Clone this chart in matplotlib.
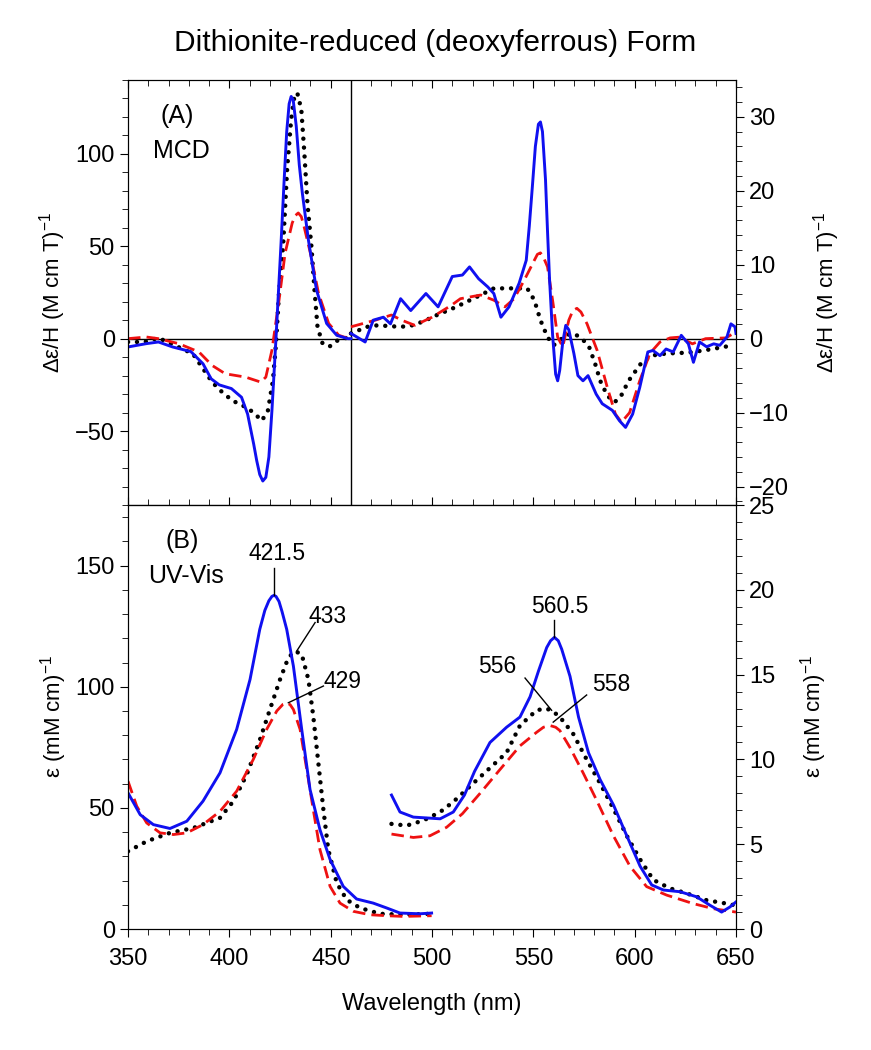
import numpy as np
import matplotlib
matplotlib.use('Agg')
import matplotlib.pyplot as plt
from matplotlib.ticker import MultipleLocator

plt.rcParams['font.family'] = ['Liberation Sans', 'DejaVu Sans']
plt.rcParams['mathtext.fontset'] = 'custom'
plt.rcParams['mathtext.rm'] = 'Liberation Sans'
plt.rcParams['mathtext.it'] = 'Liberation Sans:italic'

# ---- (A) MCD, Soret region (left axis) ----
mcd_blue_l_x = [350, 359, 365, 372, 381, 387, 391, 395, 401, 406, 409, 412, 413.5, 415, 416.5, 418,
                419.5, 421, 423, 425.5, 427, 428.3, 429.5, 430.5, 431.5, 433, 434.5, 436, 439, 443,
                448, 453, 458.5, 460]
mcd_blue_l_y = [-4.5, -2.7, -1.8, -4.5, -7, -13.6, -21.7, -25, -27, -31.7, -40.8, -57, -66, -73.5,
                -77, -75, -64, -39, 0, 51.6, 85, 112, 127, 131, 129, 115, 94, 78.8, 53.4, 26.3,
                8.2, 1.8, 0, 0]
mcd_red_l_x = [350, 359, 365, 375, 385, 391.5, 398, 408, 415.5, 418, 421, 424.5, 427.5, 431, 432.5,
               434, 435.5, 437, 440, 444, 449, 454, 459, 460]
mcd_red_l_y = [0, 0.9, 0, -2.7, -7.2, -14.5, -19, -20.8, -23.5, -20.8, -6.3, 20.8, 46.2, 62.5, 66.5,
               68, 66, 60, 46.2, 24.5, 8.2, 1.8, 0, 0]
mcd_blk_l_x = [350, 358, 365, 373, 382, 386.5, 391.5, 396.5, 401.5, 408, 412, 416, 419, 421.5, 423,
               424.5, 426.5, 428.5, 430.5, 432, 433.5, 435.5, 437, 438.5, 440.5, 442, 443.5, 446,
               449.5, 453.5, 458]
mcd_blk_l_y = [-1.8, -1.8, 0.4, -3.6, -8.2, -15.4, -23.5, -29, -33.5, -37, -40, -44.4, -39, -22.6,
               -2.7, 24.5, 49.8, 91.5, 118.7, 130.4, 133, 124, 100.5, 73.4, 49.8, 26.3, 6.3, -2.7,
               -4.2, -0.9, 0.5]

# ---- (A) MCD, visible region (right axis) ----
mcd_blue_r_x = [460, 467, 471, 476, 479.5, 484.5, 489.5, 497, 503, 510, 515, 518.5, 523, 527.5, 530.5,
                534, 538, 543, 546.5, 548, 549.5, 551, 552.5, 553.5, 554.5, 556, 557, 558, 559.5,
                561, 562, 563, 564.5, 566, 567.5, 570, 572, 574.5, 577, 581, 584, 589, 592.5, 595.5,
                599, 602.5, 606.5, 609, 612.5, 615.5, 619, 623, 626.5, 629, 632, 635.5, 639, 642,
                645.5, 647.5, 649.5, 650]
mcd_blue_r_y = [0.7, -0.45, 2.5, 2.9, 2.0, 5.4, 3.8, 6.1, 4.3, 8.4, 8.6, 9.7, 8.1, 7.0, 6.1, 2.9, 4.3,
                7.5, 10.6, 15.2, 20.5, 26, 29, 29.3, 28, 21.5, 14.5, 8, 0.5, -4.8, -5.7, -4.3, -0.5,
                1.8, 1.2, -2.0, -5, -5.7, -5, -7.5, -8.8, -9.7, -11.1, -12, -10.2, -6.6, -1.8, -1.6,
                -2.3, -1.4, -1.8, 0.45, -0.7, -3.2, -0.45, -1.1, -0.7, -0.9, 0.2, 2.0, 1.6, 0.7]
mcd_red_r_x = [460, 472, 480, 485, 491.5, 500, 509.5, 514, 524, 530.5, 536, 540.5, 545.5, 550.5, 552,
               553.5, 555, 557, 559.5, 562, 564.5, 567.5, 569.5, 571.5, 573.5, 576.5, 581.5, 586.5,
               590.5, 593.5, 597.5, 602.5, 607.5, 612.5, 617.5, 622, 628.5, 635, 645, 650]
mcd_red_r_y = [1.6, 2.5, 3.2, 2.5, 1.8, 2.9, 4.5, 5.4, 5.9, 5.2, 4.3, 5.4, 7.9, 10.6, 11.4, 11.6, 11.0,
               9.7, 5.2, 0.2, -1.1, 2.5, 3.8, 4.1, 3.6, 2.0, -1.6, -6.6, -10.2, -11.3, -10, -5.7,
               -2.0, -0.45, 0.1, 0.2, -0.7, 0, 0.1, 0.9]
mcd_blk_r_x = [460, 468, 473, 479, 484, 489, 495.5, 502.5, 512, 524, 530.5, 537, 547, 550.5, 553.5,
               557, 560, 566, 570, 574, 577.5, 580.5, 583, 586.5, 590, 593, 597, 603, 608, 616,
               626, 634, 642.5, 646.5]
mcd_blk_r_y = [0.7, 1.6, 1.8, 1.7, 1.6, 1.7, 2.3, 3.2, 4.3, 5.9, 6.8, 6.8, 6.8, 5.2, 2.5, 0.2, -0.9,
               0.45, 0.7, 0, -1.1, -3.4, -5.7, -7.7, -8.6, -7.9, -5.7, -3.4, -2.3, -2.0, -1.9, -1.6,
               -1.2, -1.0]

# ---- (B) UV-Vis, Soret region (left axis) ----
uv_blue_l_x = [350, 356, 362.5, 370.7, 379, 387, 395.4, 403.6, 410.2, 415, 417.5, 419.5, 421, 422,
               423, 424.5, 426, 428.3, 431.6, 435.7, 439.8, 444.7, 449.7, 456.2, 462.8, 471, 477.6,
               484.2, 494, 499.8]
uv_blue_l_y = [56.2, 47.2, 43.1, 41.5, 44.5, 52.8, 64.5, 82.4, 103, 123.7, 131.5, 135.5, 137.3, 137.7,
               137.3, 135.2, 131, 123.7, 108.5, 82.4, 57.6, 41, 28.7, 17.6, 12.4, 10.7, 8.7, 6.6,
               6.3, 6.6]
uv_red_l_x = [350, 354.3, 359.2, 365.8, 372.4, 379, 387, 395.4, 403.6, 411.8, 418.4, 423.4, 426.5,
              428.3, 430, 431.6, 434.9, 438.2, 441.4, 444.7, 449.7, 454.6, 461.2, 469.4, 477.6,
              485.9, 499.8]
uv_red_l_y = [61, 50.7, 43.8, 39.7, 39, 39.7, 43.1, 48.6, 56.9, 70, 82.4, 90, 92.8, 93.4, 92.6, 90.6,
              82.4, 65.8, 49.3, 32.8, 17.6, 10.7, 7.3, 5.9, 5.5, 5.2, 5.5]
uv_blk_l_x = [350, 359.2, 370.7, 382.2, 388.8, 395.4, 402, 408.6, 415.1, 420, 425, 429.1, 432.4,
              435.7, 439, 441.4, 443.9, 446.4, 448.8, 453, 457.9, 464.5, 474.3, 485.9, 499.8]
uv_blk_l_y = [32.1, 36.2, 39.7, 41.7, 43.8, 45.9, 52.8, 63.8, 78.2, 90.6, 103, 112, 114.7, 113.4,
              103, 87.9, 68.6, 49.3, 32.8, 19, 12.1, 8.7, 6.3, 5.9, 6.3]

# ---- (B) UV-Vis, visible region (right axis) ----
uv_blue_r_x = [480, 484.2, 490.8, 504, 510.5, 516, 521, 528.6, 536.8, 543.4, 548.4, 552.5, 556.6,
               558.5, 560.4, 562.3, 564, 568.1, 572.3, 577.2, 583, 589.6, 596.1, 602.7, 608.4,
               614.2, 622.4, 630.6, 637.2, 642.9, 647, 650]
uv_blue_r_y = [7.9, 6.9, 6.6, 6.5, 6.9, 7.9, 9.3, 11.0, 11.9, 12.5, 13.7, 15.2, 16.6, 17.0, 17.2,
               17.0, 16.5, 14.9, 12.5, 10.4, 8.8, 7.3, 5.5, 3.7, 2.6, 2.3, 2.2, 1.9, 1.4, 1.0, 1.3,
               1.6]
uv_red_r_x = [480, 490.8, 499, 507.2, 515, 523.7, 533.5, 543.4, 551.6, 555, 558.2, 561, 563.1, 568.1,
              574.6, 581.2, 589.5, 597.7, 605.9, 615.8, 628.9, 638.8, 650]
uv_red_r_y = [5.6, 5.4, 5.5, 6.0, 6.8, 8.0, 9.4, 10.8, 11.6, 11.9, 12.0, 11.9, 11.7, 10.7, 9.2, 7.6,
              5.5, 3.7, 2.5, 2.0, 1.5, 1.2, 1.0]
uv_blk_r_x = [480, 487.5, 495.7, 504, 510.5, 520.4, 528.6, 536.8, 543.4, 551.6, 556, 559, 563.1,
              569.7, 576.3, 582.9, 589.5, 596.1, 602.7, 609.2, 617.4, 625.7, 635.5, 645.4, 649.5]
uv_blk_r_y = [6.2, 6.1, 6.4, 6.9, 7.5, 8.6, 9.5, 10.4, 12.0, 12.9, 13.0, 12.9, 12.5, 11.5, 10.0,
              8.6, 7.1, 5.5, 4.1, 2.9, 2.4, 2.1, 1.7, 1.5, 1.4]

# peak labels: (text, text x, text y, line start, line end)
uv_peaks_l = [('421.5', 423.5, 155, (422, 149), (422, 137.7)),
              ('433', 448.7, 129, (442.3, 126.5), (433.2, 114.7)),
              ('429', 455.6, 102, (446.4, 100.3), (429.1, 93.4))]
uv_peaks_r = [('560.5', 563.1, 19.0, (560.4, 18.2), (560.4, 17.2)),
              ('556', 532, 15.5, (545.9, 14.8), (559, 12.9)),
              ('558', 588.6, 14.4, (576.3, 13.8), (559.8, 12.2))]

blue = dict(color='#1010f0', lw=2.1, ls='-')
red = dict(color='#ee1111', lw=2.0, ls=(0, (4.5, 2.2)))
blk = dict(color='black', lw=3.2, ls=(0, (0.01, 2.0)), dash_capstyle='round')

fig = plt.figure(figsize=(8.71, 10.5), dpi=100)
ax1 = fig.add_axes([0.147, 0.519, 0.698, 0.405])
ax2 = fig.add_axes([0.147, 0.1152, 0.698, 0.4038])
ax1r = ax1.twinx()
ax2r = ax2.twinx()

# top panel
ax1.axhline(0, color='black', lw=1.0)
ax1.axvline(460, color='black', lw=1.0)
ax1.plot(mcd_blk_l_x, mcd_blk_l_y, **blk)
ax1.plot(mcd_red_l_x, mcd_red_l_y, **red)
ax1.plot(mcd_blue_l_x, mcd_blue_l_y, **blue)
ax1r.plot(mcd_blk_r_x, mcd_blk_r_y, **blk)
ax1r.plot(mcd_red_r_x, mcd_red_r_y, **red)
ax1r.plot(mcd_blue_r_x, mcd_blue_r_y, **blue)
ax1.set_ylim(-90, 140)
ax1r.set_ylim(-22.5, 35)

# bottom panel
ax2.plot(uv_blk_l_x, uv_blk_l_y, **blk)
ax2.plot(uv_red_l_x, uv_red_l_y, **red)
ax2.plot(uv_blue_l_x, uv_blue_l_y, **blue)
ax2r.plot(uv_blk_r_x, uv_blk_r_y, **blk)
ax2r.plot(uv_red_r_x, uv_red_r_y, **red)
ax2r.plot(uv_blue_r_x, uv_blue_r_y, **blue)
ax2.set_ylim(0, 175)
ax2r.set_ylim(0, 25)

for txt, tx, ty, p0, p1 in uv_peaks_l:
    ax2.text(tx, ty, txt, fontsize=16.5, ha='center', va='center')
    ax2.plot([p0[0], p1[0]], [p0[1], p1[1]], color='black', lw=1.0)
for txt, tx, ty, p0, p1 in uv_peaks_r:
    ax2r.text(tx, ty, txt, fontsize=16.5, ha='center', va='center')
    ax2r.plot([p0[0], p1[0]], [p0[1], p1[1]], color='black', lw=1.0)

for ax in (ax1, ax2):
    ax.set_xlim(350, 650)
    ax.xaxis.set_major_locator(MultipleLocator(50))
    ax.xaxis.set_minor_locator(MultipleLocator(10))
    ax.tick_params(axis='x', which='both', top=True, direction='in')
    ax.tick_params(axis='x', which='major', length=6)
    ax.tick_params(axis='x', which='minor', length=4)
    ax.tick_params(axis='y', which='major', direction='out', length=6, labelsize=17)
    ax.tick_params(axis='y', which='minor', direction='out', length=4)
ax1.tick_params(axis='x', which='both', bottom=False, labelbottom=False)
ax2.tick_params(axis='x', which='both', bottom=True, direction='out', labelsize=17, pad=8)
ax2.tick_params(axis='x', which='both', top=True)

ax1.yaxis.set_major_locator(MultipleLocator(50))
ax1.yaxis.set_minor_locator(MultipleLocator(10))
ax1r.yaxis.set_major_locator(MultipleLocator(10))
ax1r.yaxis.set_minor_locator(MultipleLocator(2))
ax2.yaxis.set_major_locator(MultipleLocator(50))
ax2.yaxis.set_minor_locator(MultipleLocator(10))
ax2r.yaxis.set_major_locator(MultipleLocator(5))
ax2r.yaxis.set_minor_locator(MultipleLocator(1))
for ax in (ax1r, ax2r):
    ax.tick_params(axis='y', which='major', direction='out', length=6, labelsize=17)
    ax.tick_params(axis='y', which='minor', direction='out', length=4)

ylab_mcd = 'Δε/H (M cm T)$^{-1}$'
ylab_uv = 'ε (mM cm)$^{-1}$'
ax1.set_ylabel(ylab_mcd, fontsize=16, labelpad=5)
ax1r.set_ylabel(ylab_mcd, fontsize=16, labelpad=16)
ax2.set_ylabel(ylab_uv, fontsize=16, labelpad=5)
ax2r.set_ylabel(ylab_uv, fontsize=16, labelpad=16)
ax2.set_xlabel('Wavelength (nm)', fontsize=17, labelpad=16)

ax1.text(0.053, 0.915, '(A)', transform=ax1.transAxes, fontsize=18, ha='left', va='center')
ax1.text(0.041, 0.832, 'MCD', transform=ax1.transAxes, fontsize=18, ha='left', va='center')
ax2.text(0.061, 0.915, '(B)', transform=ax2.transAxes, fontsize=18, ha='left', va='center')
ax2.text(0.033, 0.832, 'UV-Vis', transform=ax2.transAxes, fontsize=18, ha='left', va='center')

fig.text(0.5, 0.959, 'Dithionite-reduced (deoxyferrous) Form', fontsize=21.5, ha='center', va='center')

fig.savefig('out.png', dpi=100)
